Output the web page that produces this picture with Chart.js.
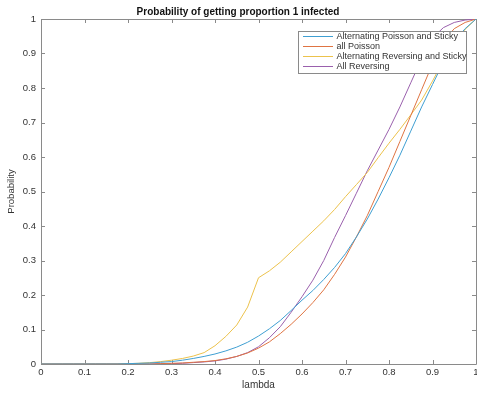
<!DOCTYPE html>
<html>
<head>
<meta charset="utf-8">
<script src="https://cdn.jsdelivr.net/npm/chart.js@4.4.0/dist/chart.umd.min.js"></script>
<style>
  html, body { margin: 0; padding: 0; background: #fff; }
  #wrap { width: 477px; height: 393px; }
</style>
</head>
<body>
<div id="wrap"><canvas id="c" width="477" height="393"></canvas></div>
<script>
const lambdas = [0, 0.025, 0.05, 0.075, 0.1, 0.125, 0.15, 0.175, 0.2, 0.225, 0.25, 0.275, 0.3, 0.325, 0.35, 0.375, 0.4, 0.425, 0.45, 0.475, 0.5, 0.525, 0.55, 0.575, 0.6, 0.625, 0.65, 0.675, 0.7, 0.725, 0.75, 0.775, 0.8, 0.825, 0.85, 0.875, 0.9, 0.925, 0.95, 0.975, 1];
const altPoissonSticky = [0, 0, 0, 0, 0, 0, 0, 0, 0.001, 0.002, 0.003, 0.005, 0.007, 0.011, 0.016, 0.022, 0.029, 0.038, 0.049, 0.063, 0.081, 0.102, 0.126, 0.155, 0.185, 0.213, 0.245, 0.28, 0.32, 0.368, 0.42, 0.478, 0.54, 0.605, 0.675, 0.745, 0.81, 0.875, 0.935, 0.972, 1];
const allPoisson = [0, 0, 0, 0, 0, 0, 0, 0, 0, 0, 0, 0.001, 0.002, 0.003, 0.005, 0.007, 0.01, 0.015, 0.022, 0.032, 0.046, 0.064, 0.088, 0.115, 0.145, 0.178, 0.215, 0.26, 0.31, 0.368, 0.43, 0.5, 0.57, 0.645, 0.72, 0.795, 0.87, 0.935, 0.972, 0.99, 1];
const altReversingSticky = [0, 0, 0, 0, 0, 0, 0, 0, 0.001, 0.002, 0.004, 0.007, 0.011, 0.016, 0.023, 0.033, 0.053, 0.08, 0.113, 0.165, 0.25, 0.27, 0.295, 0.325, 0.355, 0.385, 0.415, 0.448, 0.485, 0.52, 0.555, 0.598, 0.64, 0.68, 0.722, 0.765, 0.82, 0.88, 0.93, 0.97, 1];
const allReversing = [0, 0, 0, 0, 0, 0, 0, 0, 0, 0, 0, 0.001, 0.001, 0.002, 0.004, 0.006, 0.009, 0.014, 0.022, 0.033, 0.05, 0.076, 0.108, 0.15, 0.195, 0.243, 0.3, 0.367, 0.43, 0.495, 0.56, 0.62, 0.68, 0.745, 0.815, 0.885, 0.945, 0.975, 0.99, 0.997, 1];
const seriesLabels = ['Alternating Poisson and Sticky', 'all Poisson', 'Alternating Reversing and Sticky', 'All Reversing'];
const xTicks = [0, 0.1, 0.2, 0.3, 0.4, 0.5, 0.6, 0.7, 0.8, 0.9, 1];
const yTicks = [0, 0.1, 0.2, 0.3, 0.4, 0.5, 0.6, 0.7, 0.8, 0.9, 1];

const colors = ['#3f9fd2', '#df7442', '#ecc24c', '#9a60ad'];
const FONT = "'Liberation Sans', Arial, Helvetica, sans-serif";
const axisColor = '#8a8a8a';
const textColor = '#333333';

function pts(arr) { return lambdas.map((l, i) => ({ x: l, y: arr[i] })); }
function fmt(v) { return String(Math.round(v * 10) / 10); }
const allSeries = [altPoissonSticky, allPoisson, altReversingSticky, allReversing];

const framePlugin = {
  id: 'frame',
  beforeDatasetsDraw(chart) {
    const ctx = chart.ctx, a = chart.chartArea;
    const xs = chart.scales.x, ys = chart.scales.y;
    ctx.save();
    ctx.strokeStyle = axisColor;
    ctx.lineWidth = 1;
    ctx.beginPath();
    ctx.rect(Math.round(a.left) + 0.5, Math.round(a.top) + 0.5, Math.round(a.right - a.left), Math.round(a.bottom - a.top));
    ctx.stroke();
    const tl = 4;
    ctx.beginPath();
    xTicks.forEach(v => {
      const px = Math.round(xs.getPixelForValue(v)) + 0.5;
      ctx.moveTo(px, a.bottom); ctx.lineTo(px, a.bottom - tl);
      ctx.moveTo(px, a.top); ctx.lineTo(px, a.top + tl);
    });
    yTicks.forEach(v => {
      const py = Math.round(ys.getPixelForValue(v)) + 0.5;
      ctx.moveTo(a.left, py); ctx.lineTo(a.left + tl, py);
      ctx.moveTo(a.right, py); ctx.lineTo(a.right - tl, py);
    });
    ctx.stroke();
    ctx.restore();
  }
};

const legendPlugin = {
  id: 'boxLegend',
  afterDraw(chart) {
    const ctx = chart.ctx, a = chart.chartArea;
    const bx = a.right - 178, by = a.top + 12, bw = 168, bh = 42;
    ctx.save();
    ctx.fillStyle = '#ffffff';
    ctx.fillRect(bx, by, bw, bh);
    ctx.strokeStyle = axisColor;
    ctx.lineWidth = 1;
    ctx.strokeRect(Math.round(bx) + 0.5, Math.round(by) + 0.5, bw, bh);
    ctx.font = '9px ' + FONT;
    ctx.textBaseline = 'middle';
    chart.data.datasets.forEach((ds, i) => {
      const y = by + 4.8 + i * 10.2;
      ctx.strokeStyle = ds.borderColor;
      ctx.beginPath();
      ctx.moveTo(bx + 5, Math.round(y) + 0.5);
      ctx.lineTo(bx + 35, Math.round(y) + 0.5);
      ctx.stroke();
      ctx.fillStyle = textColor;
      ctx.fillText(ds.label, bx + 38.5, y + 0.5);
    });
    ctx.restore();
  }
};

new Chart(document.getElementById('c'), {
  type: 'line',
  data: {
    datasets: allSeries.map((s, i) => ({
      label: seriesLabels[i],
      data: pts(s),
      borderColor: colors[i],
      backgroundColor: colors[i],
      borderWidth: 1,
      pointRadius: 0,
      tension: 0,
      fill: false
    }))
  },
  options: {
    responsive: false,
    animation: false,
    devicePixelRatio: 1,
    layout: { padding: { left: 0, right: 1, top: 0, bottom: 0 } },
    plugins: {
      legend: { display: false },
      tooltip: { enabled: false },
      title: {
        display: true,
        text: 'Probability of getting proportion 1 infected',
        color: '#111',
        font: { family: FONT, size: 10, weight: 'bold' },
        padding: { top: 6, bottom: 1 }
      }
    },
    scales: {
      x: {
        type: 'linear',
        min: 0, max: 1,
        grid: { display: false, drawTicks: false },
        border: { display: false },
        ticks: {
          stepSize: 0.1,
          padding: 3,
          color: textColor,
          font: { family: FONT, size: 9.5 },
          maxRotation: 0,
          autoSkip: false,
          callback: (v) => fmt(v)
        },
        title: {
          display: true, text: 'lambda', color: textColor,
          font: { family: FONT, size: 10 },
          padding: { top: 0, bottom: 2 }
        },
        afterFit(scale) { scale.height = 29; scale.paddingRight = 0; scale.paddingLeft = 0; }
      },
      y: {
        type: 'linear',
        min: 0, max: 1,
        grid: { display: false, drawTicks: false },
        border: { display: false },
        ticks: {
          stepSize: 0.1,
          padding: 5,
          color: textColor,
          font: { family: FONT, size: 9.5 },
          callback: (v) => fmt(v)
        },
        title: {
          display: true, text: 'Probability', color: textColor,
          font: { family: FONT, size: 9.5 },
          padding: { top: 6, bottom: 0 }
        },
        afterFit(scale) { scale.width = 41; }
      }
    }
  },
  plugins: [framePlugin, legendPlugin]
});
</script>
</body>
</html>
